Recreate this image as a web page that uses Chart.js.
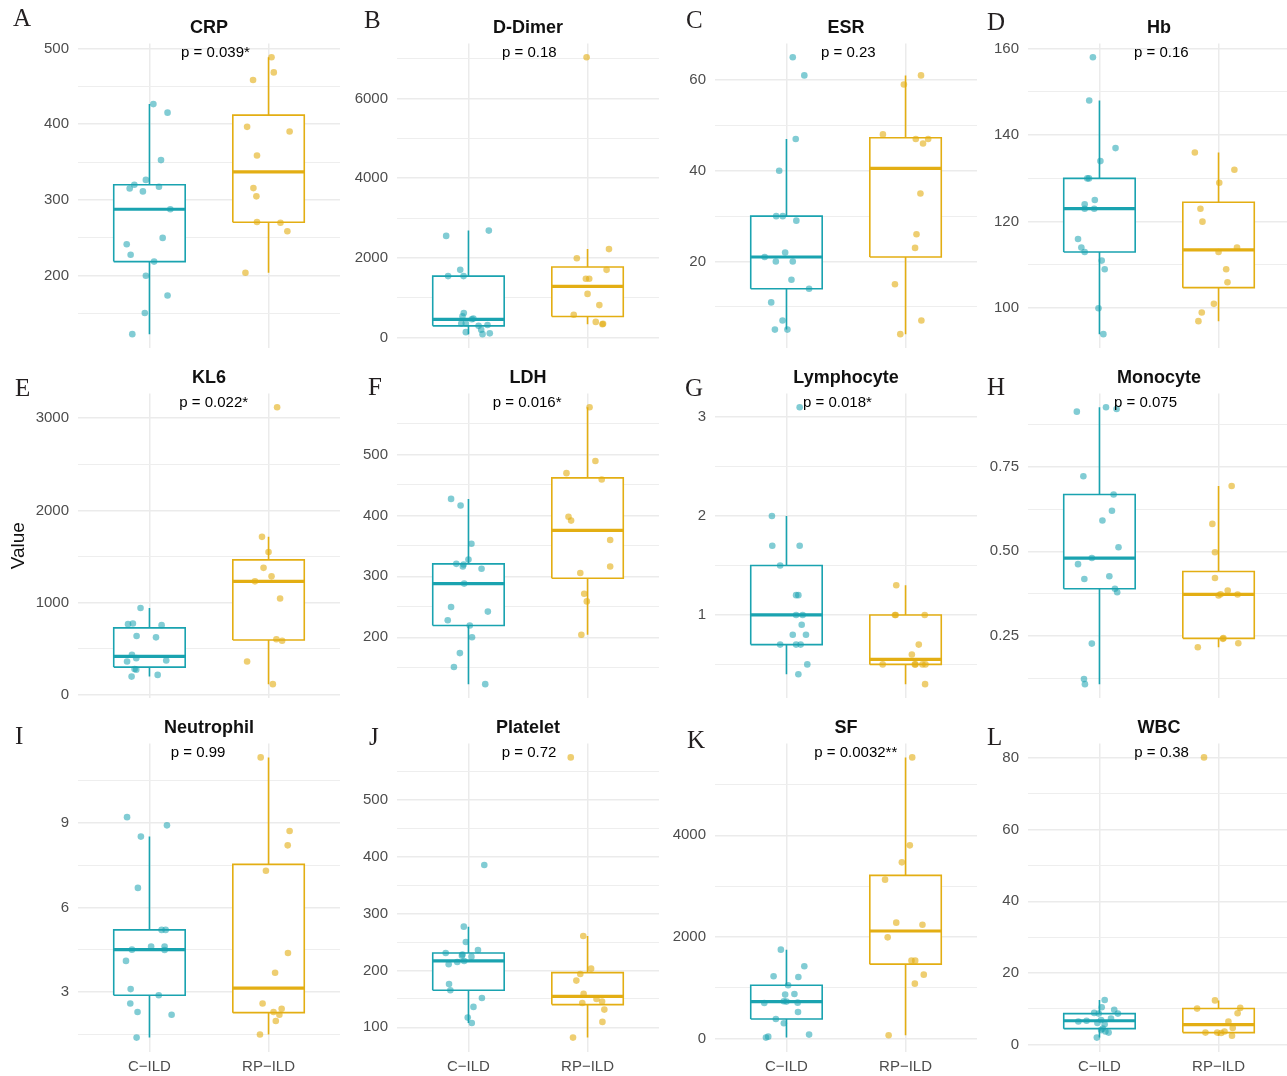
<!DOCTYPE html>
<html>
<head>
<meta charset="utf-8">
<script src="https://cdn.jsdelivr.net/npm/chart.js@4.4.1/dist/chart.umd.min.js"></script>
<style>
  html, body { margin: 0; padding: 0; background: #fff; overflow: hidden; }
  #fig { position: relative; width: 1287px; height: 1076px; overflow: hidden; background: #fff; }
  #fig canvas { position: absolute; }
  .tag { position: absolute; font-family: "Liberation Serif", "Times New Roman", serif; font-size: 25px; line-height: 25px; color: #231f20; }
</style>
</head>
<body>
<div id="fig"></div>
<script>
// ---- labels ----
const groupLabels = ['C\u2212ILD', 'RP\u2212ILD'];
const panelNames = ['CRP', 'D-Dimer', 'ESR', 'Hb', 'KL6', 'LDH', 'Lymphocyte', 'Monocyte', 'Neutrophil', 'Platelet', 'SF', 'WBC'];
const panelTags = ['A', 'B', 'C', 'D', 'E', 'F', 'G', 'H', 'I', 'J', 'K', 'L'];
const pTexts = ['p = 0.039', 'p = 0.18', 'p = 0.23', 'p = 0.16', 'p = 0.022', 'p = 0.016', 'p = 0.018', 'p = 0.075', 'p = 0.99', 'p = 0.72', 'p = 0.0032', 'p = 0.38'];
const pStars = ['*', '', '', '', '*', '*', '*', '', '', '', '**', ''];

// ---- y axis ticks ----
const yTickValues = [
  [200, 300, 400, 500], [0, 2000, 4000, 6000], [20, 40, 60], [100, 120, 140, 160],
  [0, 1000, 2000, 3000], [200, 300, 400, 500], [1, 2, 3], [0.25, 0.5, 0.75],
  [3, 6, 9], [100, 200, 300, 400, 500], [0, 2000, 4000], [0, 20, 40, 60, 80]
];
const yTickLabels = [
  ['200', '300', '400', '500'], ['0', '2000', '4000', '6000'], ['20', '40', '60'], ['100', '120', '140', '160'],
  ['0', '1000', '2000', '3000'], ['200', '300', '400', '500'], ['1', '2', '3'], ['0.25', '0.50', '0.75'],
  ['3', '6', '9'], ['100', '200', '300', '400', '500'], ['0', '2000', '4000'], ['0', '20', '40', '60', '80']
];

// ---- measurements (values) and horizontal jitter of each dot ----
const crpC = [426.5, 415.2, 352.6, 326.5, 320.0, 315.2, 311.3, 317.4, 287.8, 250.0, 241.7, 227.8, 218.7, 200.0, 174.0, 151.0, 123.0];
const crpCJit = [0.033, 0.152, 0.097, -0.030, -0.127, -0.166, -0.055, 0.080, 0.175, 0.111, -0.191, -0.158, 0.039, -0.030, 0.152, -0.039, -0.144];
const crpR = [488.3, 468.3, 458.3, 396.5, 390.4, 358.7, 315.7, 304.8, 270.9, 270.0, 258.7, 204.0];
const crpRJit = [0.025, 0.044, -0.130, -0.180, 0.177, -0.097, -0.127, -0.102, -0.097, 0.100, 0.158, -0.194];

const dDimerC = [2553, 2686, 1702, 1545, 1545, 620, 540, 480, 463, 360, 355, 320, 298, 200, 140, 110, 90];
const dDimerCJit = [-0.187, 0.171, -0.069, -0.171, -0.041, -0.039, -0.050, 0.041, 0.028, -0.022, -0.060, 0.160, 0.085, 0.107, -0.022, 0.179, 0.118];
const dDimerR = [7033, 2223, 1992, 1702, 1479, 1479, 1099, 818, 578, 397, 350, 339];
const dDimerRJit = [-0.008, 0.180, -0.090, 0.160, -0.014, 0.014, 0.000, 0.099, -0.116, 0.069, 0.130, 0.125];

const esrC = [65, 61, 47, 40, 30, 30, 29, 22, 21, 20, 20, 16, 14, 11, 7, 5, 5];
const esrCJit = [0.053, 0.150, 0.078, -0.061, -0.086, -0.031, 0.083, -0.011, -0.183, -0.089, 0.053, 0.042, 0.190, -0.128, -0.033, -0.097, 0.008];
const esrR = [61, 59, 48, 47, 47, 46, 35, 26, 23, 15, 7, 4];
const esrRJit = [0.130, -0.014, -0.190, 0.086, 0.190, 0.147, 0.125, 0.092, 0.080, -0.089, 0.133, -0.044];

const hbC = [158, 148, 137, 134, 130, 130, 125, 124, 123, 123, 116, 114, 113, 111, 109, 100, 94];
const hbCJit = [-0.055, -0.086, 0.135, 0.008, -0.102, -0.088, -0.039, -0.124, -0.124, -0.044, -0.180, -0.152, -0.124, 0.019, 0.044, -0.008, 0.033];
const hbR = [136, 132, 129, 123, 120, 114, 113, 109, 106, 101, 99, 97];
const hbRJit = [-0.199, 0.133, 0.006, -0.152, -0.135, 0.155, 0.000, 0.064, 0.075, -0.039, -0.141, -0.169];

const kl6C = [943, 768, 775, 757, 639, 625, 436, 400, 364, 375, 282, 275, 200, 218];
const kl6CJit = [-0.075, -0.180, -0.139, 0.102, -0.108, 0.055, -0.147, -0.111, -0.188, 0.141, -0.125, -0.111, -0.150, 0.069];
const kl6R = [3118, 1714, 1550, 1378, 1286, 1232, 1046, 604, 589, 364, 118];
const kl6RJit = [0.072, -0.055, 0.000, -0.042, 0.025, -0.114, 0.097, 0.066, 0.114, -0.180, 0.036];

const ldhC = [427.0, 416.2, 353.5, 327.6, 320.5, 319.5, 316.2, 312.4, 288.1, 249.7, 242.2, 228.1, 219.5, 200.0, 174.1, 151.4, 123.2];
const ldhCJit = [-0.146, -0.066, 0.025, 0.000, -0.102, -0.041, -0.047, 0.110, -0.036, -0.146, 0.163, -0.174, 0.011, 0.030, -0.072, -0.122, 0.141];
const ldhR = [577.3, 489.2, 469.2, 458.9, 397.8, 391.4, 359.5, 316.2, 305.4, 271.4, 258.9, 204.3];
const ldhRJit = [0.017, 0.066, -0.177, 0.119, -0.160, -0.138, 0.190, 0.190, -0.061, -0.028, -0.006, -0.052];

const lymphocyteC = [3.1, 2.0, 1.7, 1.7, 1.5, 1.2, 1.2, 1.0, 1.0, 0.9, 0.8, 0.8, 0.7, 0.7, 0.7, 0.5, 0.4];
const lymphocyteCJit = [0.111, -0.122, -0.119, 0.111, -0.053, 0.081, 0.100, 0.081, 0.136, 0.128, 0.053, 0.164, -0.053, 0.081, 0.119, 0.175, 0.100];
const lymphocyteR = [1.3, 1.0, 1.0, 1.0, 0.7, 0.6, 0.5, 0.5, 0.5, 0.5, 0.5, 0.3];
const lymphocyteRJit = [-0.078, -0.089, -0.083, 0.161, 0.111, 0.053, -0.192, 0.078, 0.083, 0.142, 0.167, 0.164];

const monocyteC = [0.913, 0.926, 0.921, 0.722, 0.668, 0.620, 0.591, 0.512, 0.480, 0.462, 0.418, 0.426, 0.389, 0.379, 0.227, 0.122, 0.107];
const monocyteCJit = [-0.190, 0.055, 0.144, -0.135, 0.119, 0.105, 0.025, 0.160, -0.064, -0.180, -0.127, 0.083, 0.130, 0.149, -0.064, -0.130, -0.122];
const monocyteR = [0.693, 0.581, 0.497, 0.421, 0.384, 0.373, 0.369, 0.372, 0.243, 0.241, 0.228, 0.216];
const monocyteRJit = [0.110, -0.052, -0.030, -0.030, 0.077, 0.017, 0.000, 0.160, 0.041, 0.036, 0.166, -0.174];

const neutrophilC = [9.21, 8.92, 8.52, 6.70, 5.21, 5.21, 4.62, 4.62, 4.51, 4.50, 4.11, 3.11, 2.89, 2.60, 2.30, 2.20, 1.39];
const neutrophilCJit = [-0.188, 0.147, -0.072, -0.097, 0.102, 0.136, 0.014, 0.127, -0.147, 0.127, -0.197, -0.158, 0.078, -0.161, -0.100, 0.186, -0.108];
const neutrophilR = [11.33, 8.72, 8.21, 7.31, 4.39, 3.69, 2.60, 2.41, 2.30, 2.20, 1.98, 1.50];
const neutrophilRJit = [-0.066, 0.177, 0.161, -0.022, 0.163, 0.055, -0.050, 0.110, 0.042, 0.091, 0.061, -0.072];

const plateletC = [385.6, 277.1, 250.1, 236.1, 230.8, 228.0, 226.1, 224.3, 216.7, 215.0, 210.9, 176.2, 165.1, 151.6, 135.8, 117.0, 107.6];
const plateletCJit = [0.133, -0.039, -0.022, 0.080, -0.191, -0.050, -0.055, 0.025, -0.036, -0.094, -0.166, -0.163, -0.152, 0.113, 0.042, -0.006, 0.028];
const plateletR = [575.1, 260.7, 203.2, 193.8, 182.1, 158.7, 149.9, 145.2, 142.8, 131.1, 109.4, 81.8];
const plateletRJit = [-0.141, -0.036, 0.030, -0.061, -0.094, -0.033, 0.075, 0.122, -0.044, 0.141, 0.125, -0.122];

const sfC = [1751, 1423, 1226, 1213, 1049, 866, 879, 734, 728, 702, 708, 525, 387, 302, 79, 20, 39];
const sfCJit = [-0.047, 0.150, -0.108, 0.100, 0.014, -0.011, 0.067, -0.022, 0.000, -0.186, 0.094, 0.097, -0.089, -0.022, 0.190, -0.172, -0.153];
const sfR = [5534, 3803, 3469, 3128, 2282, 2242, 1993, 1534, 1534, 1259, 1082, 66];
const sfRJit = [0.056, 0.036, -0.031, -0.172, -0.078, 0.142, -0.150, 0.050, 0.081, 0.153, 0.078, -0.142];

const wbcC = [12.4, 10.4, 9.7, 8.8, 8.6, 8.6, 7.2, 6.8, 6.6, 6.4, 6.0, 5.6, 4.4, 4.0, 3.6, 3.3, 1.9];
const wbcCJit = [0.044, 0.019, 0.124, -0.044, 0.155, -0.006, 0.097, 0.014, -0.108, -0.177, -0.017, 0.044, 0.028, 0.014, 0.050, 0.077, -0.022];
const wbcR = [80.2, 12.3, 10.0, 10.2, 8.7, 6.4, 4.6, 3.6, 3.3, 3.3, 3.2, 2.4];
const wbcRJit = [-0.122, -0.030, -0.180, 0.182, 0.160, 0.083, 0.119, 0.050, -0.110, -0.011, 0.022, 0.113];

const valuesC = [crpC, dDimerC, esrC, hbC, kl6C, ldhC, lymphocyteC, monocyteC, neutrophilC, plateletC, sfC, wbcC];
const jitterC = [crpCJit, dDimerCJit, esrCJit, hbCJit, kl6CJit, ldhCJit, lymphocyteCJit, monocyteCJit, neutrophilCJit, plateletCJit, sfCJit, wbcCJit];
const valuesR = [crpR, dDimerR, esrR, hbR, kl6R, ldhR, lymphocyteR, monocyteR, neutrophilR, plateletR, sfR, wbcR];
const jitterR = [crpRJit, dDimerRJit, esrRJit, hbRJit, kl6RJit, ldhRJit, lymphocyteRJit, monocyteRJit, neutrophilRJit, plateletRJit, sfRJit, wbcRJit];

// ---- styling / layout ----
const FONT = '"Liberation Sans", Arial, Helvetica, sans-serif';
const TEAL = '#1aa3b0';
const TEAL_DOT = 'rgba(26,163,176,0.55)';
const GOLD = '#e3ae13';
const GOLD_DOT = 'rgba(227,174,19,0.6)';
const colLeft = [0, 319, 637, 950];
const plotWidth = [265, 263.7, 264.3, 265];
const rowTop = [0, 350, 700];
const AXIS_W = 78;
const PLOT_TOP = 43.4;
const PLOT_H = 308.2;
const CANVAS_W = 344;
const tagPos = [[13, 18.5], [364, 21.3], [686, 21.2], [987, 22.5],
                [15, 389], [368, 388], [685, 389], [987, 388],
                [15, 737], [369, 737.5], [687, 740.8], [987, 737.5]];
// left edge of each p-value annotation, measured from the plot's left edge
const pLabelLeft = [103, 105, 106, 106, 101.3, 95.7, 88, 86, 92.7, 104.7, 99.3, 106.3];

function quantile(sorted, p) {
  const h = (sorted.length - 1) * p;
  const lo = Math.floor(h), hi = Math.ceil(h);
  return sorted[lo] + (h - lo) * (sorted[hi] - sorted[lo]);
}
function boxStats(vals) {
  const s = [...vals].sort((a, b) => a - b);
  const q1 = quantile(s, 0.25), med = quantile(s, 0.5), q3 = quantile(s, 0.75);
  const iqr = q3 - q1;
  const lo = Math.min(...s.filter(v => v >= q1 - 1.5 * iqr));
  const hi = Math.max(...s.filter(v => v <= q3 + 1.5 * iqr));
  return { q1, med, q3, lo, hi };
}

function groupDatasets(vals, jit, pos, line, dot) {
  const st = boxStats(vals);
  const hw = 0.3;
  const seg = (pts, w) => ({
    type: 'line', data: pts, borderColor: line, borderWidth: w,
    pointRadius: 0, tension: 0, fill: false
  });
  return {
    dots: {
      type: 'scatter', data: vals.map((v, i) => ({ x: pos + jit[i], y: v })),
      pointRadius: 3.3, pointBackgroundColor: dot, pointBorderWidth: 0, showLine: false
    },
    lines: [
      seg([{ x: pos - hw, y: st.med }, { x: pos + hw, y: st.med }], 3.2),
      Object.assign(seg([{ x: pos - hw, y: st.q1 }, { x: pos + hw, y: st.q1 }, { x: pos + hw, y: st.q3 },
                         { x: pos - hw, y: st.q3 }, { x: pos - hw, y: st.q1 }], 1.6),
                    { fill: 'shape', backgroundColor: '#ffffff' }),
      seg([{ x: pos, y: st.q3 }, { x: pos, y: st.hi }], 1.6),
      seg([{ x: pos, y: st.q1 }, { x: pos, y: st.lo }], 1.6)
    ]
  };
}

// p-value annotation at the top of each panel
const pLabelPlugin = {
  id: 'pLabel',
  afterDatasetsDraw(chart, args, opts) {
    const { ctx, chartArea: a } = chart;
    ctx.save();
    ctx.font = '15px ' + FONT;
    ctx.fillStyle = '#000';
    ctx.textBaseline = 'middle';
    ctx.textAlign = 'left';
    ctx.fillText(opts.text + opts.stars, a.left + opts.left, a.top + 9);
    ctx.restore();
  }
};

const fig = document.getElementById('fig');

panelNames.forEach((name, k) => {
  const row = Math.floor(k / 4), col = k % 4;
  const lastRow = row === 2;
  const canvasH = lastRow ? 376 : 352;
  const plotBottom = PLOT_TOP + PLOT_H;
  const xH = lastRow ? canvasH - plotBottom : 0;
  const padBottom = lastRow ? 0 : canvasH - plotBottom;

  const cv = document.createElement('canvas');
  cv.width = CANVAS_W; cv.height = canvasH;
  cv.style.left = colLeft[col] + 'px';
  cv.style.top = rowTop[row] + 'px';
  fig.appendChild(cv);

  const tag = document.createElement('div');
  tag.className = 'tag';
  tag.textContent = panelTags[k];
  tag.style.left = tagPos[k][0] + 'px';
  tag.style.top = (tagPos[k][1] - 14) + 'px';
  fig.appendChild(tag);

  const allVals = valuesC[k].concat(valuesR[k]);
  const vMin = Math.min(...allVals), vMax = Math.max(...allVals);
  const pad = (vMax - vMin) * 0.05;
  const yMin = vMin - pad, yMax = vMax + pad;

  const majors = yTickValues[k];
  const step = majors[1] - majors[0];
  const tickList = [];
  const firstMinor = majors[0] - step / 2;
  if (firstMinor >= yMin) tickList.push({ value: firstMinor, minor: true });
  majors.forEach(v => {
    tickList.push({ value: v, minor: false });
    const m = v + step / 2;
    if (m <= yMax) tickList.push({ value: m, minor: true });
  });

  const gC = groupDatasets(valuesC[k], jitterC[k], 1, TEAL, TEAL_DOT);
  const gR = groupDatasets(valuesR[k], jitterR[k], 2, GOLD, GOLD_DOT);

  new Chart(cv, {
    type: 'scatter',
    data: { datasets: [gC.dots, gR.dots, ...gC.lines, ...gR.lines] },
    plugins: [pLabelPlugin],
    options: {
      responsive: false, animation: false, devicePixelRatio: 1,
      events: [],
      layout: { padding: { left: 0, top: 0, right: CANVAS_W - AXIS_W - plotWidth[col], bottom: padBottom } },
      plugins: {
        legend: { display: false },
        tooltip: { enabled: false },
        title: {
          display: true, text: name, fullSize: false, color: '#111',
          font: { family: FONT, size: 18, weight: 'bold', lineHeight: 1.2 },
          padding: { top: 17.2, bottom: PLOT_TOP - 17.2 - 21.6 }
        },
        pLabel: { text: pTexts[k], stars: pStars[k], left: pLabelLeft[k] }
      },
      scales: {
        x: {
          type: 'linear', min: 0.4, max: 2.6, bounds: 'data',
          afterBuildTicks: s => { s.ticks = [{ value: 1 }, { value: 2 }]; },
          afterFit: s => { s.height = xH; s.paddingLeft = 0; s.paddingRight = 0; },
          ticks: {
            display: lastRow, autoSkip: false, maxRotation: 0, padding: 6,
            color: '#4d4d4d', font: { family: FONT, size: 15 },
            callback: v => groupLabels[Math.round(v) - 1]
          },
          grid: { color: '#ebebeb', lineWidth: 1.5, drawTicks: false },
          border: { display: false }
        },
        y: {
          type: 'linear', min: yMin, max: yMax, bounds: 'data',
          afterBuildTicks: s => { s.ticks = tickList.map(t => ({ value: t.value, minor: t.minor })); },
          afterFit: s => { s.width = AXIS_W; s.paddingTop = 0; s.paddingBottom = 0; },
          ticks: {
            autoSkip: false, padding: 9, color: '#4d4d4d', font: { family: FONT, size: 15 },
            callback: (v, i, ticks) => {
              if (ticks[i].minor) return '';
              const j = majors.indexOf(v);
              return j >= 0 ? yTickLabels[k][j] : '';
            }
          },
          grid: {
            drawTicks: false,
            color: c => (c.tick && c.tick.minor) ? '#eeeeee' : '#ebebeb',
            lineWidth: c => (c.tick && c.tick.minor) ? 1 : 1.5
          },
          border: { display: false },
          title: {
            display: k === 4, text: 'Value', color: '#111',
            font: { family: FONT, size: 19 }, padding: { top: 7, bottom: 0 }
          }
        }
      }
    }
  });
});
</script>
</body>
</html>
